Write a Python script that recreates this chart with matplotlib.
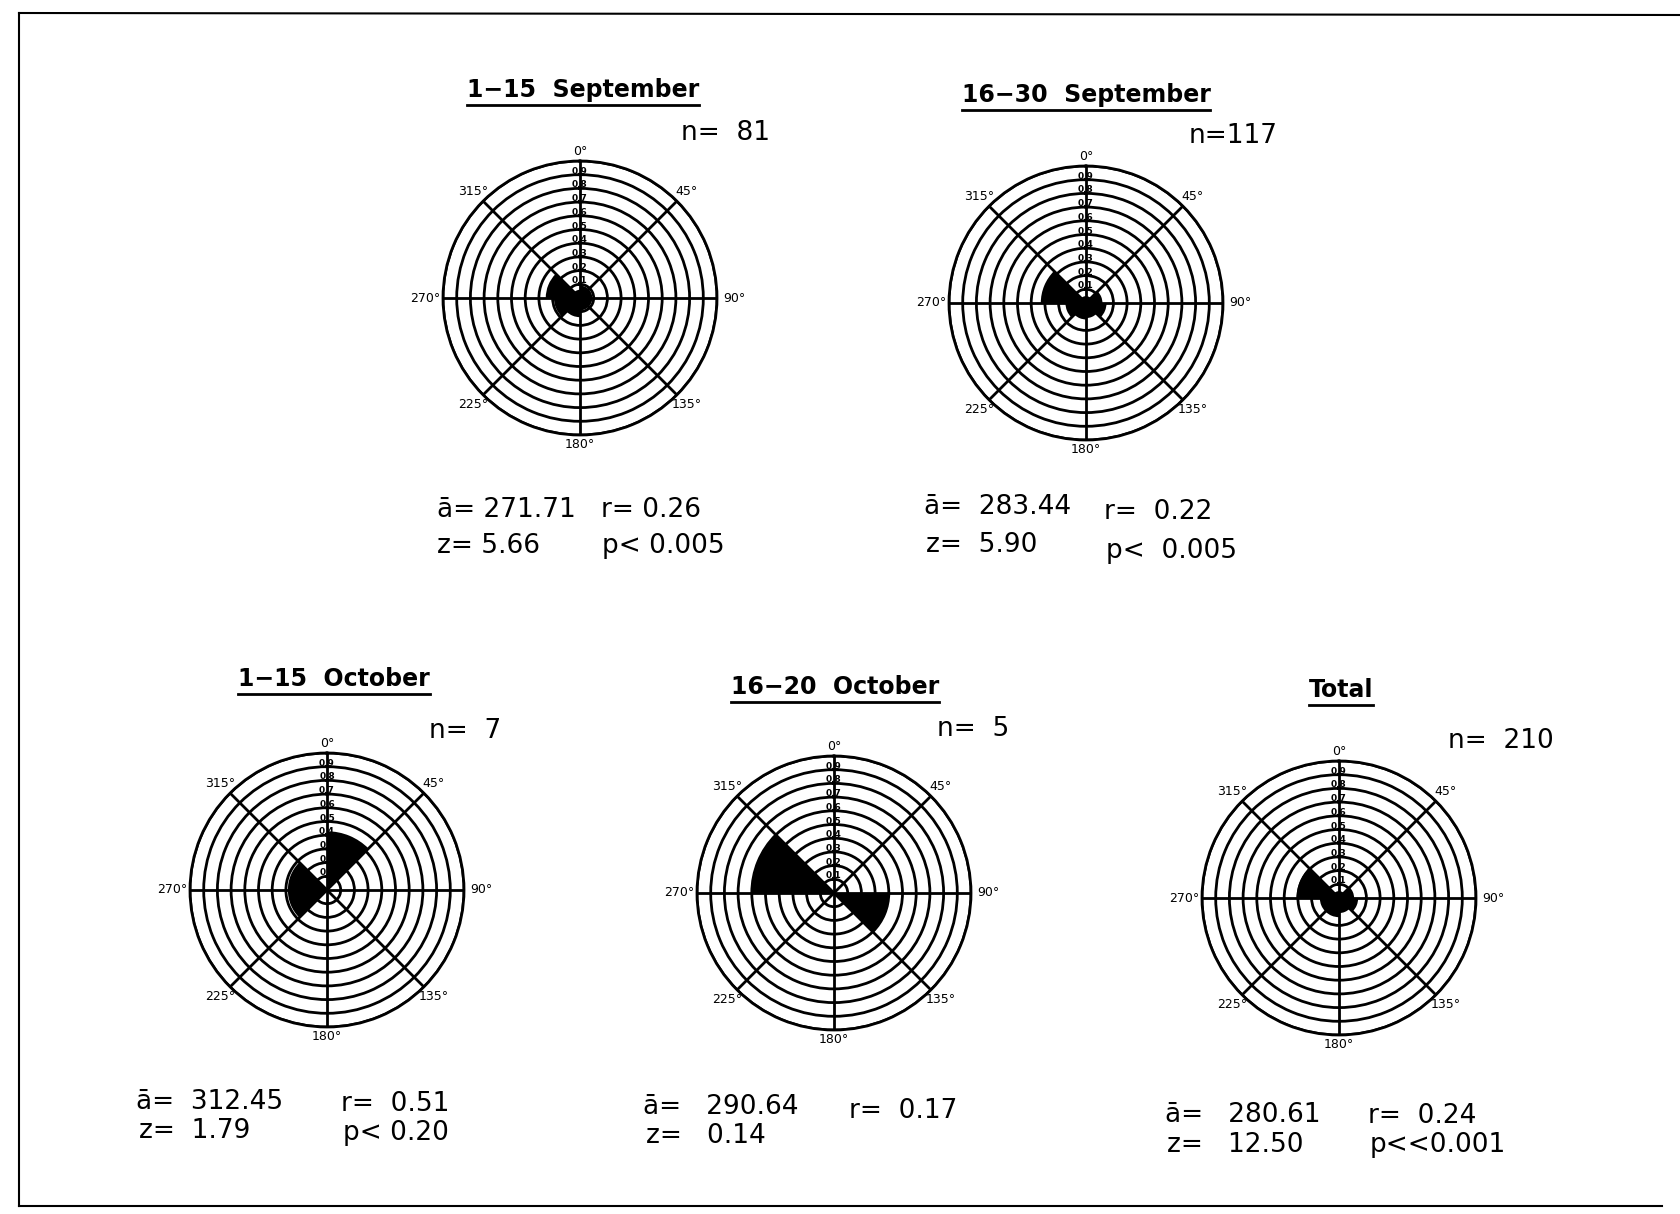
import numpy as np
import matplotlib
matplotlib.use('Agg')
import matplotlib.pyplot as plt
from matplotlib.lines import Line2D

#------------------------------------------------
# data
titles = ['1\u221215  September', '16\u221230  September', '1\u221215  October',
          '16\u221220  October', 'Total']
n_obs = [81, 117, 7, 5, 210]
# 45 degree sectors, starting at 0 (north), clockwise
sector_start = [0, 45, 90, 135, 180, 225, 270, 315]
# proportion of observations in each sector
prop_sep1 = [0.09, 0.09, 0.09, 0.09, 0.14, 0.19, 0.25, 0.06]
prop_sep2 = [0.05, 0.12, 0.15, 0.10, 0.12, 0.15, 0.33, 0.05]
prop_oct1 = [3/7, 0, 0, 0, 0, 2/7, 2/7, 0]
prop_oct2 = [0, 0, 2/5, 0, 0, 0, 3/5, 0]
prop_total = [0.05, 0.10, 0.14, 0.10, 0.14, 0.14, 0.31, 0.05]
proportions = [prop_sep1, prop_sep2, prop_oct1, prop_oct2, prop_total]
mean_angle = ['271.71', '283.44', '312.45', '290.64', '280.61']
r_vals = ['0.26', '0.22', '0.51', '0.17', '0.24']
z_vals = ['5.66', '5.90', '1.79', '0.14', '12.50']
p_vals = ['p< 0.005', 'p<  0.005', 'p< 0.20', '', 'p<<0.001']
ring_labels = ['0.1', '0.2', '0.3', '0.4', '0.5', '0.6', '0.7', '0.8', '0.9']
deg_labels = ['0\u00b0', '45\u00b0', '90\u00b0', '135\u00b0', '180\u00b0',
              '225\u00b0', '270\u00b0', '315\u00b0']

#------------------------------------------------
# layout (pixels in the 1681x1214 figure)
W, H = 1681, 1214
R = 137
centers = [(580, 298), (1086, 303), (327, 890), (834, 893), (1339, 898)]
title_pos = [(583, 90), (1086, 95), (334, 679), (835, 687), (1341, 690)]
n_pos = [(726, 133), (1233, 136), (465, 731), (973, 729), (1501, 741)]
# a-bar row, r row, z row, p row : (x, y)
stat_pos = [
    [(437, 510), (601, 510), (437, 546), (602, 546)],
    [(924, 507), (1104, 512), (926, 545), (1106, 551)],
    [(136, 1102), (341, 1104), (139, 1131), (343, 1133)],
    [(643, 1107), (849, 1111), (646, 1136), (849, 1136)],
    [(1165, 1115), (1368, 1116), (1167, 1145), (1370, 1145)],
]
n_sp = ['  ', '', '  ', '  ', '  ']
a_sp = [' ', '  ', '  ', '   ', '   ']
r_sp = [' ', '  ', '  ', '  ', '  ']
z_sp = [' ', '  ', '  ', '   ', '   ']
fs = 19

fig = plt.figure(figsize=(W/100, H/100), dpi=100, facecolor='white')

def px(x, y):
    return x / W, 1 - y / H

#------------------------------------------------
for i in range(5):
    cx, cy = centers[i]
    ax = fig.add_axes([(cx - R)/W, 1 - (cy + R)/H, 2*R/W, 2*R/H], projection='polar')
    ax.set_theta_zero_location('N')
    ax.set_theta_direction(-1)
    ax.set_ylim(0, 1)
    theta = np.deg2rad(sector_start)
    ax.bar(theta, proportions[i], width=np.deg2rad(45), align='edge',
           color='black', edgecolor='black', lw=0, zorder=1)
    ax.set_rticks(np.arange(0.1, 1.01, 0.1))
    ax.set_yticklabels([])
    ax.set_xticks(np.deg2rad(sector_start))
    ax.set_xticklabels([])
    ax.grid(True, color='black', lw=2, zorder=2)
    ax.spines['polar'].set_linewidth(2)
    ax.set_axisbelow(False)
    # radial labels along the 0 degree line
    for k, lab in enumerate(ring_labels):
        ax.text(0, (k + 1) / 10 + 0.025, lab, fontsize=6.5, fontweight='bold',
                ha='center', va='center', zorder=5)
    # degree labels round the outside
    for k, lab in enumerate(deg_labels):
        ang = sector_start[k]
        rr = 1.10 if ang % 90 else 1.07
        if ang in (90, 270):
            rr = 1.13
        ax.text(np.deg2rad(ang), rr, lab, fontsize=9, ha='center', va='center',
                clip_on=False)

    # title, n and stats
    fig.text(*px(*title_pos[i]), titles[i], fontsize=17, ha='center', va='center',
             fontweight='bold')
    fig.text(*px(*n_pos[i]), 'n=' + n_sp[i] + str(n_obs[i]), fontsize=fs,
             ha='center', va='center')
    sp = stat_pos[i]
    fig.text(*px(*sp[0]), '\u0101=' + a_sp[i] + mean_angle[i], fontsize=fs,
             ha='left', va='center')
    fig.text(*px(*sp[1]), 'r=' + r_sp[i] + r_vals[i], fontsize=fs, ha='left', va='center')
    fig.text(*px(*sp[2]), 'z=' + z_sp[i] + z_vals[i], fontsize=fs, ha='left', va='center')
    if p_vals[i]:
        fig.text(*px(*sp[3]), p_vals[i], fontsize=fs, ha='left', va='center')

#------------------------------------------------
# underline titles
fig.canvas.draw()
renderer = fig.canvas.get_renderer()
for t in fig.texts:
    if t.get_text() in titles:
        bb = t.get_window_extent(renderer)
        y = bb.y0 - 3
        fig.add_artist(Line2D([bb.x0 / W, bb.x1 / W], [y / H, y / H],
                              transform=fig.transFigure, color='black', lw=2))

# frame round the page
fig.add_artist(Line2D([19/W, 19/W], [1 - 13/H, 1 - 1206/H], transform=fig.transFigure,
                      color='black', lw=1.5))
fig.add_artist(Line2D([19/W, 1], [1 - 13/H, 1 - 15/H], transform=fig.transFigure,
                      color='black', lw=1.5))
fig.add_artist(Line2D([19/W, 1662/W], [1 - 1206/H, 1 - 1206/H], transform=fig.transFigure,
                      color='black', lw=1.5))

fig.savefig('out.png', dpi=100, facecolor='white')
